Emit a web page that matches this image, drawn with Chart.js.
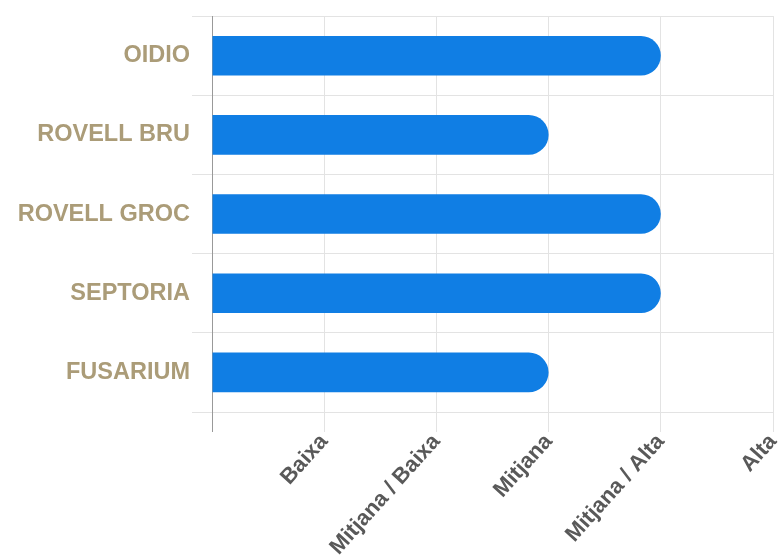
<!DOCTYPE html>
<html>
<head>
<meta charset="utf-8">
<script src="https://cdn.jsdelivr.net/npm/chart.js@4"></script>
<style>
  html, body { margin: 0; padding: 0; background: #ffffff; }
  #wrap { width: 781px; height: 560px; }
</style>
</head>
<body>
<div id="wrap"><canvas id="c" width="781" height="560"></canvas></div>
<script>
const categories = ['OIDIO', 'ROVELL BRU', 'ROVELL GROC', 'SEPTORIA', 'FUSARIUM'];
const riskValues = [4, 3, 4, 4, 3];
const levelLabels = ['', 'Baixa', 'Mitjana / Baixa', 'Mitjana', 'Mitjana / Alta', 'Alta'];

new Chart(document.getElementById('c'), {
  type: 'bar',
  data: {
    labels: categories,
    datasets: [{
      data: riskValues,
      backgroundColor: '#107ee4',
      borderWidth: 0,
      borderRadius: 20,
      borderSkipped: 'start',
      barPercentage: 0.5,
      categoryPercentage: 1.0
    }]
  },
  options: {
    indexAxis: 'y',
    responsive: false,
    animation: false,
    layout: { padding: { top: 14, right: 8, left: 0, bottom: 0 } },
    plugins: { legend: { display: false }, tooltip: { enabled: false } },
    scales: {
      x: {
        min: 0,
        max: 5,
        ticks: {
          stepSize: 1,
          autoSkip: false,
          minRotation: 48,
          maxRotation: 48,
          padding: -3,
          color: '#595959',
          font: { family: 'Liberation Sans, Arial, sans-serif', size: 22, weight: 'bold' },
          callback: (v) => levelLabels[v]
        },
        grid: {
          color: (ctx) => ctx.index === 0 ? '#999999' : '#e3e3e3',
          tickLength: 20
        },
        border: { color: '#e3e3e3' },
        afterFit: (s) => { s.height = 148; s.paddingRight = 0; s.paddingLeft = 0; }
      },
      y: {
        ticks: {
          padding: 2,
          color: '#ab9c78',
          font: { family: 'Liberation Sans, Arial, sans-serif', size: 23.5, weight: 'bold' }
        },
        grid: { color: '#e3e3e3', tickLength: 20 },
        border: { color: '#999999' },
        afterFit: (s) => { s.width = 212; }
      }
    }
  }
});
</script>
</body>
</html>
